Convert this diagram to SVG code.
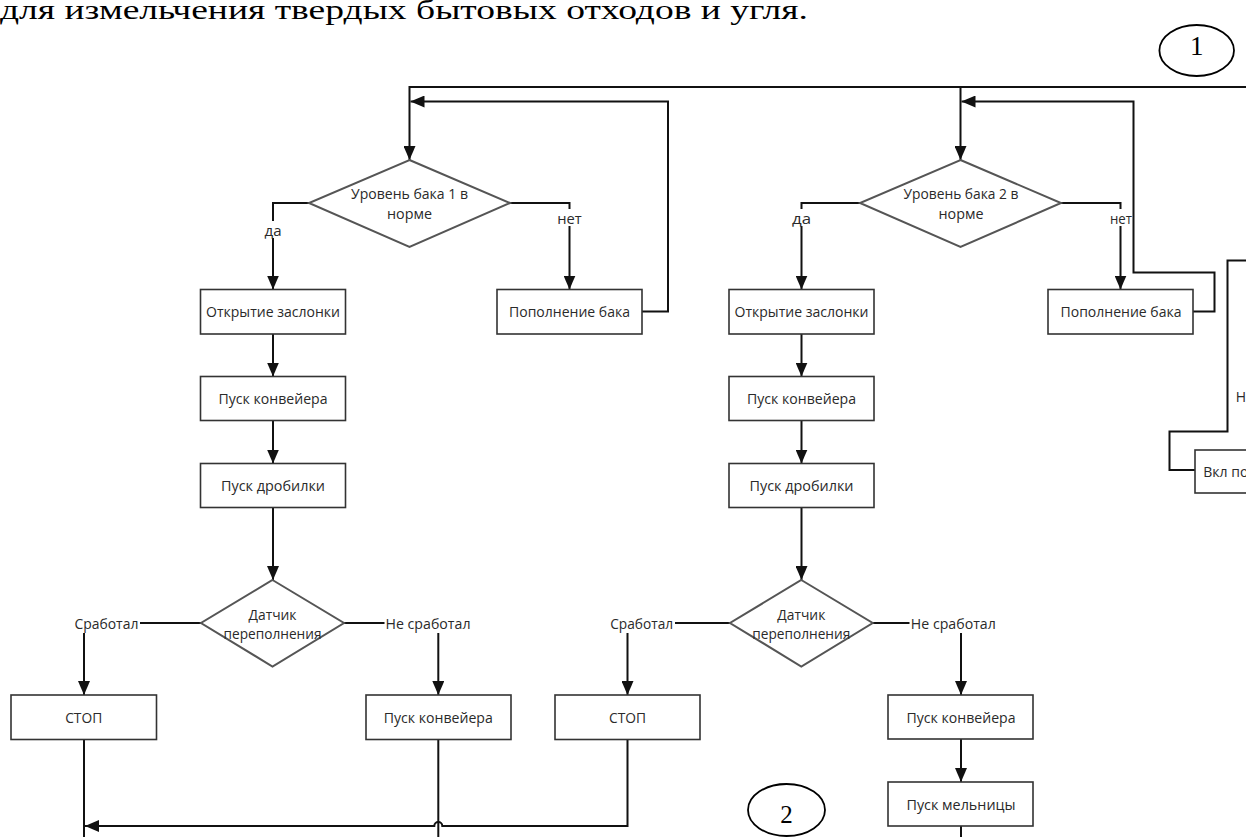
<svg xmlns="http://www.w3.org/2000/svg" width="1246" height="837" viewBox="0 0 1246 837">
<style>
.box{fill:#fff;stroke:#333;stroke-width:1.6}
.dia{fill:#fff;stroke:#555;stroke-width:2}
.c{fill:none;stroke:#111;stroke-width:2}
.ca{fill:none;stroke:#111;stroke-width:2;marker-end:url(#arr)}
.t{font-family:"Open Sans","Liberation Sans",sans-serif;font-size:14px;fill:#2a2a2a;text-anchor:middle;dominant-baseline:central}
.bg{fill:#fff;stroke:none}
.serif{font-family:"Liberation Serif","Times New Roman",serif;fill:#000}
.circ{fill:#fff;stroke:#000;stroke-width:1.8}
</style>
<defs>
<marker id="arr" markerUnits="userSpaceOnUse" markerWidth="14" markerHeight="12" refX="14" refY="6" orient="auto">
<path d="M0,0 L14,6 L0,12 z" fill="#111"/>
</marker>
</defs>
<rect x="0" y="0" width="1246" height="837" fill="#fff"/>
<text class="serif" x="0" y="18.5" font-size="28" textLength="808" lengthAdjust="spacingAndGlyphs">для измельчения твердых бытовых отходов и угля.</text>

<g id="connectors">
<path class="ca" d="M1246 87 H409.5 V160"/>
<path class="ca" d="M960.5 87 V160"/>
<path class="ca" d="M642 311.5 H668 V101.5 H410.5"/>
<path class="ca" d="M1193 311.5 H1214.5 V272.5 H1133.5 V101.5 H961.5"/>
<path class="ca" d="M309 203 H273 V289.5"/>
<path class="ca" d="M510 203 H569.5 V289.5"/>
<path class="ca" d="M273 334 V376.5"/>
<path class="ca" d="M273 420.5 V463.5"/>
<path class="ca" d="M273 507.5 V580"/>
<path class="ca" d="M201 623 H84 V695"/>
<path class="ca" d="M344 623 H438.3 V695"/>
<path class="c" d="M84 739.5 V837"/>
<path class="c" d="M438.3 739.5 V837"/>
<path class="ca" d="M627.5 739.5 V826 H442.3 A4 4 0 0 0 434.3 826 H85"/>
<path class="ca" d="M860 203 H801.5 V289.5"/>
<path class="ca" d="M1061 203 H1120.5 V289.5"/>
<path class="ca" d="M801.5 334 V376.5"/>
<path class="ca" d="M801.5 420.5 V463.5"/>
<path class="ca" d="M801.5 507.5 V580"/>
<path class="ca" d="M730 623 H627.5 V695"/>
<path class="ca" d="M872.7 623 H961 V695"/>
<path class="ca" d="M961 739 V782"/>
<path class="c" d="M961 826 V837"/>
<path class="c" d="M1246 260.5 H1227.5 V431.5 H1169.5 V470 H1195"/>
<g id="labels">
<rect class="bg" x="264" y="221" width="18" height="17"/>
<text class="t" x="273" y="230" textLength="17" lengthAdjust="spacingAndGlyphs">да</text>
<rect class="bg" x="556.5" y="209" width="26" height="17"/>
<text class="t" x="569.5" y="218" textLength="24.5" lengthAdjust="spacingAndGlyphs">нет</text>
<rect class="bg" x="73" y="614" width="67" height="19"/>
<text class="t" x="106.4" y="623" textLength="64" lengthAdjust="spacingAndGlyphs">Сработал</text>
<rect class="bg" x="384.5" y="614" width="87" height="19"/>
<text class="t" x="428" y="623" textLength="85" lengthAdjust="spacingAndGlyphs">Не сработал</text>
<rect class="bg" x="791" y="209" width="21" height="17"/>
<text class="t" x="801.5" y="218" textLength="19" lengthAdjust="spacingAndGlyphs">да</text>
<rect class="bg" x="1109" y="209" width="23" height="17"/>
<text class="t" x="1121" y="218" textLength="22" lengthAdjust="spacingAndGlyphs">нет</text>
<rect class="bg" x="609" y="614" width="66" height="19"/>
<text class="t" x="641.7" y="623" textLength="63" lengthAdjust="spacingAndGlyphs">Сработал</text>
<rect class="bg" x="909.5" y="614" width="88" height="19"/>
<text class="t" x="953.3" y="623" textLength="85" lengthAdjust="spacingAndGlyphs">Не сработал</text>
<text class="t" x="1235.7" y="396" style="text-anchor:start">Н</text>
</g>
</g>

<g id="d1"><polygon class="dia" points="409.5,160 510,203 409.5,247 309,203"/>
<text class="t" x="409.5" y="193" textLength="117" lengthAdjust="spacingAndGlyphs">Уровень бака 1 в</text>
<text class="t" x="409.5" y="213" textLength="45" lengthAdjust="spacingAndGlyphs">норме</text></g>
<g id="b1"><rect class="box" x="200.5" y="289.5" width="145" height="44.5"/>
<text class="t" x="273" y="311.5" textLength="134" lengthAdjust="spacingAndGlyphs">Открытие заслонки</text></g>
<g id="b2"><rect class="box" x="497" y="289.5" width="145" height="44.5"/>
<text class="t" x="569.5" y="311.5" textLength="121" lengthAdjust="spacingAndGlyphs">Пополнение бака</text></g>
<g id="b3"><rect class="box" x="200.5" y="376.5" width="145" height="44"/>
<text class="t" x="273" y="398.5" textLength="109" lengthAdjust="spacingAndGlyphs">Пуск конвейера</text></g>
<g id="b4"><rect class="box" x="200.5" y="463.5" width="145" height="44"/>
<text class="t" x="273" y="485.5" textLength="104" lengthAdjust="spacingAndGlyphs">Пуск дробилки</text></g>
<g id="d2"><polygon class="dia" points="272.5,580 344,623 272.5,666.5 201,623"/>
<text class="t" x="272.5" y="614" textLength="48" lengthAdjust="spacingAndGlyphs">Датчик</text>
<text class="t" x="272.5" y="633" textLength="98" lengthAdjust="spacingAndGlyphs">переполнения</text></g>
<g id="b5"><rect class="box" x="11" y="695" width="145.5" height="44.5"/>
<text class="t" x="83.7" y="717.5" textLength="37" lengthAdjust="spacingAndGlyphs">СТОП</text></g>
<g id="b6"><rect class="box" x="366" y="695" width="145" height="44.5"/>
<text class="t" x="438.3" y="717.5" textLength="109" lengthAdjust="spacingAndGlyphs">Пуск конвейера</text></g>

<g id="d3"><polygon class="dia" points="960.5,160 1061,203 960.5,247 860,203"/>
<text class="t" x="961" y="193" textLength="115" lengthAdjust="spacingAndGlyphs">Уровень бака 2 в</text>
<text class="t" x="961" y="213" textLength="45" lengthAdjust="spacingAndGlyphs">норме</text></g>
<g id="b7"><rect class="box" x="729" y="289.5" width="145" height="44.5"/>
<text class="t" x="801.5" y="311.5" textLength="134" lengthAdjust="spacingAndGlyphs">Открытие заслонки</text></g>
<g id="b8"><rect class="box" x="1048" y="289.5" width="145" height="44.5"/>
<text class="t" x="1121" y="311.5" textLength="121" lengthAdjust="spacingAndGlyphs">Пополнение бака</text></g>
<g id="b9"><rect class="box" x="729" y="376.5" width="145" height="44"/>
<text class="t" x="801.5" y="398.5" textLength="109" lengthAdjust="spacingAndGlyphs">Пуск конвейера</text></g>
<g id="b10"><rect class="box" x="729" y="463.5" width="145" height="44"/>
<text class="t" x="801.5" y="485.5" textLength="104" lengthAdjust="spacingAndGlyphs">Пуск дробилки</text></g>
<g id="d4"><polygon class="dia" points="801.3,580 872.7,623 801.3,666.5 730,623"/>
<text class="t" x="801.3" y="614" textLength="48" lengthAdjust="spacingAndGlyphs">Датчик</text>
<text class="t" x="801.3" y="633" textLength="98" lengthAdjust="spacingAndGlyphs">переполнения</text></g>
<g id="b11"><rect class="box" x="555" y="695" width="145" height="44.5"/>
<text class="t" x="627.5" y="717.5" textLength="37" lengthAdjust="spacingAndGlyphs">СТОП</text></g>
<g id="b12"><rect class="box" x="888" y="695" width="145" height="44"/>
<text class="t" x="961" y="717" textLength="109" lengthAdjust="spacingAndGlyphs">Пуск конвейера</text></g>
<g id="b13"><rect class="box" x="888" y="782" width="145" height="44"/>
<text class="t" x="961" y="804" textLength="109" lengthAdjust="spacingAndGlyphs">Пуск мельницы</text></g>
<g id="b14"><rect class="box" x="1195" y="450" width="80" height="43"/>
<text class="t" x="1203.3" y="471" style="text-anchor:start">Вкл по</text></g>

<g id="c1"><ellipse class="circ" cx="1196.7" cy="50.5" rx="37.3" ry="25.5"/>
<text class="serif" x="1196.7" y="54.5" font-size="27" text-anchor="middle">1</text></g>
<g id="c2"><ellipse class="circ" cx="786.5" cy="810" rx="38.5" ry="26"/>
<text class="serif" x="786.5" y="823" font-size="25" text-anchor="middle">2</text></g>
</svg>
